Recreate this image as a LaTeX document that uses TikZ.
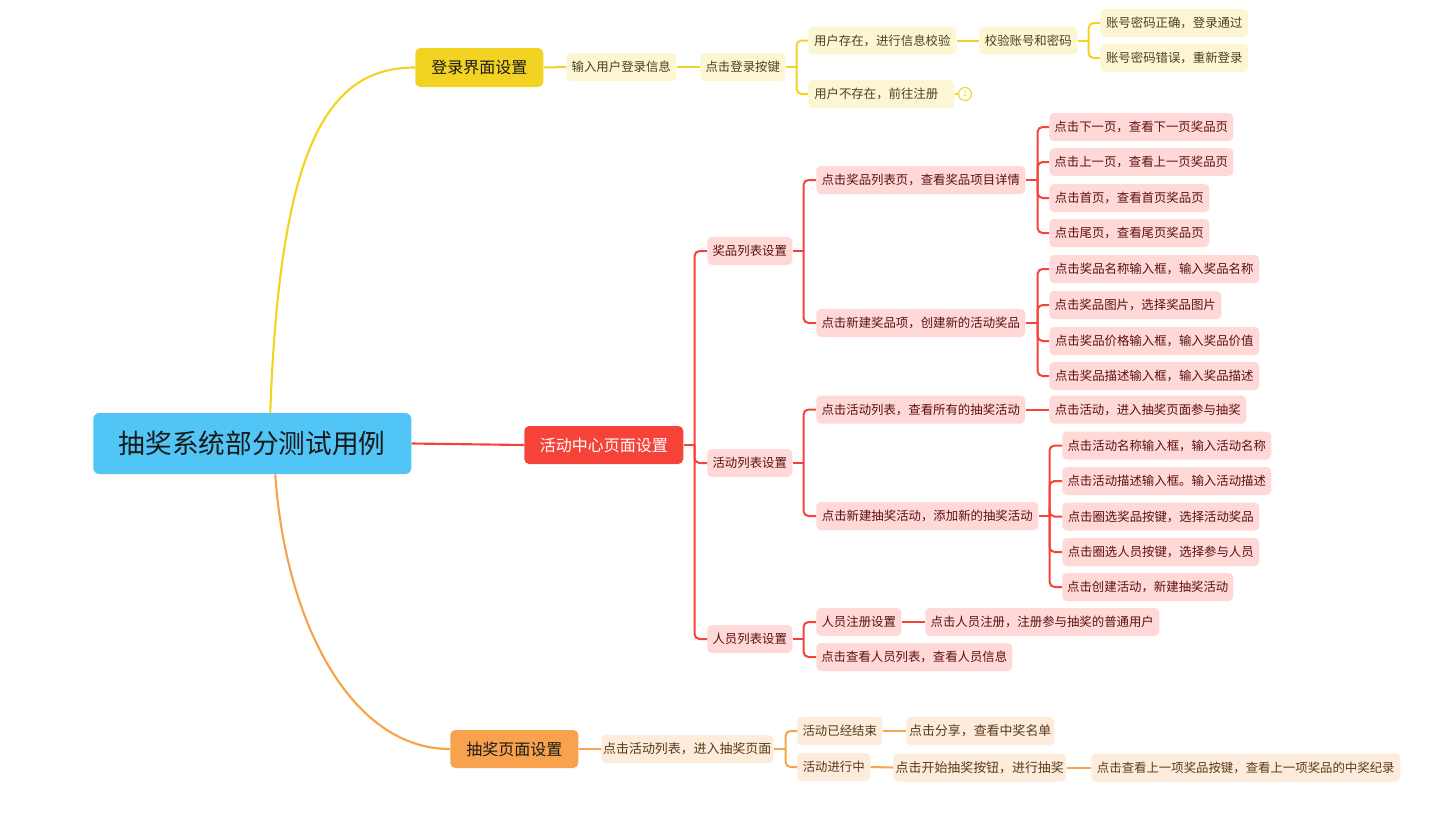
\documentclass[tikz,border=0pt]{standalone}
\usepackage{fontspec}
\setmainfont{Noto Sans CJK SC}
\usetikzlibrary{calc}
\newdimen\px \px=0.75pt
\definecolor{cy}{HTML}{F3D321}
\definecolor{cr}{HTML}{F5433A}
\definecolor{co}{HTML}{F8A24E}
\definecolor{fy}{HTML}{FDF6D3}
\definecolor{fr}{HTML}{FFD9D8}
\definecolor{fo}{HTML}{FDEBDC}
\definecolor{ty}{HTML}{4A4020}
\definecolor{tr}{HTML}{5C1010}
\definecolor{to}{HTML}{5A3A1A}
\definecolor{rootc}{HTML}{50C5F6}
\begin{document}
\begin{tikzpicture}[x=0.75pt,y=-0.75pt,
  base/.style={rectangle, rounded corners=4.5\px, inner sep=0pt, minimum height=28\px, anchor=west, font=\fontsize{9.3pt}{11pt}\selectfont},
  ly/.style={base, fill=fy, text=ty},
  lr/.style={base, fill=fr, text=tr},
  lo/.style={base, fill=fo, text=to},
  lob/.style={lo, font=\fontsize{9.7pt}{12pt}\selectfont},
  topic/.style={rectangle, rounded corners=5\px, inner sep=0pt, minimum height=38\px, anchor=west, font=\fontsize{12pt}{14pt}\selectfont},
  wy/.style={draw=cy, line width=1.5pt},
  wr/.style={draw=cr, line width=1.5pt},
  wo/.style={draw=co, line width=1.5pt},
  br/.style={rounded corners=5\px}]
\useasboundingbox (0,0) rectangle (1445,815);

% root and main topics
\node[rectangle, rounded corners=6\px, inner sep=0pt, anchor=west, fill=rootc, text=black!90, minimum width=318\px, minimum height=61\px, font=\fontsize{20pt}{24pt}\selectfont] (root) at (93,443.5) {抽奖系统部分测试用例};
\node[topic, fill=cy, text=black!90, minimum width=128\px, minimum height=39\px] (login) at (415,67.5) {登录界面设置};
\node[topic, fill=cr, text=white, minimum width=159\px] (center) at (524,445) {活动中心页面设置};
\node[topic, fill=co, text=black!90, minimum width=128\px] (lottery) at (450,749) {抽奖页面设置};

% yellow branch
\node[ly, minimum width=110\px] (y1) at (566,67) {输入用户登录信息};
\node[ly, minimum width=85\px] (y2) at (700,67) {点击登录按键};
\node[ly, minimum width=148\px] (y3) at (808,40.5) {用户存在，进行信息校验};
\node[ly, minimum width=146\px] (y4) at (808,94) {\makebox[134\px][l]{用户不存在，前往注册}};
\node[ly, minimum width=98\px] (y5) at (979,40.5) {校验账号和密码};
\node[ly, minimum width=148\px] (y6) at (1100,23) {账号密码正确，登录通过};
\node[ly, minimum width=148\px] (y7) at (1100,58) {账号密码错误，重新登录};
\node[circle, draw=cy, line width=0.8pt, fill=white, minimum size=13\px, inner sep=0pt, text=cy, font=\fontsize{6pt}{6pt}\selectfont] (badge) at (965,94) {1};

% red branch
\node[lr, minimum width=85\px] (r1) at (707,251) {奖品列表设置};
\node[lr, minimum width=85\px] (r2) at (707,463) {活动列表设置};
\node[lr, minimum width=85\px] (r3) at (707,639) {人员列表设置};
\node[lr, minimum width=209\px] (r11) at (816,180) {点击奖品列表页，查看奖品项目详情};
\node[lr, minimum width=209\px] (r12) at (816,323) {点击新建奖品项，创建新的活动奖品};
\node[lr, minimum width=184\px] (r111) at (1049,127) {点击下一页，查看下一页奖品页};
\node[lr, minimum width=184\px] (r112) at (1049,162) {点击上一页，查看上一页奖品页};
\node[lr, minimum width=160\px] (r113) at (1049,198) {点击首页，查看首页奖品页};
\node[lr, minimum width=160\px] (r114) at (1049,233) {点击尾页，查看尾页奖品页};
\node[lr, minimum width=210\px] (r121) at (1049,269) {点击奖品名称输入框，输入奖品名称};
\node[lr, minimum width=172\px] (r122) at (1049,305) {点击奖品图片，选择奖品图片};
\node[lr, minimum width=210\px] (r123) at (1049,341) {点击奖品价格输入框，输入奖品价值};
\node[lr, minimum width=210\px] (r124) at (1049,376) {点击奖品描述输入框，输入奖品描述};
\node[lr, minimum width=209\px] (r21) at (816,409.5) {点击活动列表，查看所有的抽奖活动};
\node[lr, minimum width=197\px] (r211) at (1049,409.5) {点击活动，进入抽奖页面参与抽奖};
\node[lr, minimum width=222\px] (r22) at (816,516) {点击新建抽奖活动，添加新的抽奖活动};
\node[lr, minimum width=209\px] (r221) at (1062,445.5) {点击活动名称输入框，输入活动名称};
\node[lr, minimum width=209\px] (r222) at (1062,481) {点击活动描述输入框。输入活动描述};
\node[lr, minimum width=197\px] (r223) at (1062,516.5) {点击圈选奖品按键，选择活动奖品};
\node[lr, minimum width=197\px] (r224) at (1062,552) {点击圈选人员按键，选择参与人员};
\node[lr, minimum width=171\px] (r225) at (1062,587) {点击创建活动，新建抽奖活动};
\node[lr, minimum width=85\px] (r31) at (816,622) {人员注册设置};
\node[lr, minimum width=234\px] (r311) at (925,622) {点击人员注册，注册参与抽奖的普通用户};
\node[lr, minimum width=196\px] (r32) at (816,657) {点击查看人员列表，查看人员信息};

% orange branch
\node[lob, minimum width=172\px] (o1) at (601,749) {点击活动列表，进入抽奖页面};
\node[lo, minimum width=85\px] (o11) at (797,731) {活动已经结束};
\node[lo, minimum width=73\px] (o12) at (797,767) {活动进行中};
\node[lob, minimum width=148\px] (o111) at (906,731) {点击分享，查看中奖名单};
\node[lob, minimum width=173\px] (o121) at (893,767.5) {点击开始抽奖按钮，进行抽奖};
\node[lo, minimum width=309\px] (o1211) at (1091,767.5) {点击查看上一项奖品按键，查看上一项奖品的中奖纪录};

% bracket points
\coordinate (rootT) at ($(root.north)+(18,0)$);
\coordinate (rootB) at ($(root.south)+(23,0)$);
\coordinate (by2) at ($(y2.east)+(11,0)$);
\coordinate (by5) at ($(y5.east)+(11,0)$);
\coordinate (bc) at ($(center.east)+(11,0)$);
\coordinate (br1) at ($(r1.east)+(11,0)$);
\coordinate (br11) at ($(r11.east)+(12,0)$);
\coordinate (br12) at ($(r12.east)+(12,0)$);
\coordinate (br2) at ($(r2.east)+(11,0)$);
\coordinate (br22) at ($(r22.east)+(11,0)$);
\coordinate (br3) at ($(r3.east)+(11,0)$);
\coordinate (bo1) at ($(o1.east)+(12,0)$);

% root connectors
\draw[wy, line width=1.6pt] (rootT) .. controls (280,140) and (330,67.5) .. (login.west);
\draw[wr, line width=1.6pt] (root.east) -- (center.west);
\draw[wo, line width=1.6pt] (rootB) .. controls (285,620) and (350,749) .. (lottery.west);

% yellow connectors
\draw[wy] (login.east) -- (y1.west);
\draw[wy] (y1.east) -- (y2.west);
\draw[wy] (y2.east) -- (by2);
\foreach \c in {y3,y4} {\draw[wy, br] (by2) |- (\c.west);}
\draw[wy] (y3.east) -- (y5.west);
\draw[wy] (y5.east) -- (by5);
\foreach \c in {y6,y7} {\draw[wy, br] (by5) |- (\c.west);}
\draw[wy, line width=1pt] (y4.east) -- (badge.west);

% red connectors
\draw[wr] (center.east) -- (bc);
\foreach \c in {r1,r2,r3} {\draw[wr, br] (bc) |- (\c.west);}
\draw[wr] (r1.east) -- (br1);
\foreach \c in {r11,r12} {\draw[wr, br] (br1) |- (\c.west);}
\draw[wr] (r11.east) -- (br11);
\foreach \c in {r111,r112,r113,r114} {\draw[wr, br] (br11) |- (\c.west);}
\draw[wr] (r12.east) -- (br12);
\foreach \c in {r121,r122,r123,r124} {\draw[wr, br] (br12) |- (\c.west);}
\draw[wr] (r2.east) -- (br2);
\foreach \c in {r21,r22} {\draw[wr, br] (br2) |- (\c.west);}
\draw[wr] (r21.east) -- (r211.west);
\draw[wr] (r22.east) -- (br22);
\foreach \c in {r221,r222,r223,r224,r225} {\draw[wr, br] (br22) |- (\c.west);}
\draw[wr] (r3.east) -- (br3);
\foreach \c in {r31,r32} {\draw[wr, br] (br3) |- (\c.west);}
\draw[wr] (r31.east) -- (r311.west);

% orange connectors
\draw[wo] (lottery.east) -- (o1.west);
\draw[wo] (o1.east) -- (bo1);
\foreach \c in {o11,o12} {\draw[wo, br] (bo1) |- (\c.west);}
\draw[wo] (o11.east) -- (o111.west);
\draw[wo] (o12.east) -- (o121.west);
\draw[wo] (o121.east) -- (o1211.west);
\end{tikzpicture}
\end{document}
